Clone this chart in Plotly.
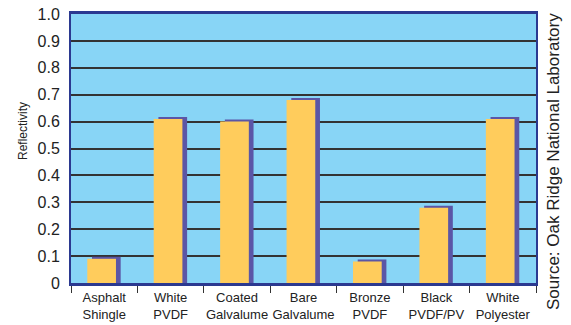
import plotly.graph_objects as go

categories = ["Asphalt<br>Shingle", "White<br>PVDF", "Coated<br>Galvalume", "Bare<br>Galvalume",
              "Bronze<br>PVDF", "Black<br>PVDF/PV", "White<br>Polyester"]
reflectivity = [0.09, 0.61, 0.60, 0.68, 0.08, 0.28, 0.61]
y_ticks = [0, 0.1, 0.2, 0.3, 0.4, 0.5, 0.6, 0.7, 0.8, 0.9, 1.0]
y_tick_text = ["0", "0.1", "0.2", "0.3", "0.4", "0.5", "0.6", "0.7", "0.8", "0.9", "1.0"]

FONT = "Liberation Sans, Arial, sans-serif"
depth = 0.0075
bar_w = 0.432

fig = go.Figure()
# 3D side/shadow
fig.add_trace(go.Bar(x=categories, y=[v + depth for v in reflectivity], width=bar_w, offset=-0.184,
                     marker=dict(color="#5B56A6", line=dict(width=0)), hoverinfo="skip"))
# front face
fig.add_trace(go.Bar(x=categories, y=reflectivity, width=bar_w, offset=-0.255,
                     marker=dict(color="#FFCC5C", line=dict(width=0))))

fig.update_layout(
    width=571, height=325, barmode="overlay", showlegend=False,
    margin=dict(l=71, r=35, t=14, b=42),
    paper_bgcolor="white", plot_bgcolor="#88D5F6",
    font=dict(family=FONT, color="#222222"),
    xaxis=dict(tickfont=dict(size=13, color="#222222"), tickson="boundaries", ticks="outside",
               ticklen=7, tickcolor="#333333", tickwidth=1, tickangle=0, automargin=False,
               showline=True, linecolor="#2B3990", linewidth=3, mirror=True, showgrid=False),
    yaxis=dict(range=[0, 1.0], tickvals=y_ticks, ticktext=y_tick_text, tickfont=dict(size=16, color="#222222"),
               showgrid=True, gridcolor="#333333", gridwidth=2, ticks="", ticklabelstandoff=6,
               automargin=False,
               showline=True, linecolor="#2B3990", linewidth=2, mirror=True, zeroline=False),
    annotations=[
        dict(text="Reflectivity", textangle=-90, x=23, y=131, xref="paper", yref="paper",
             showarrow=False, font=dict(size=12, color="#222222")),
        dict(text="Source: Oak Ridge National Laboratory", textangle=-90, x=553, y=162,
             showarrow=False, font=dict(size=17, color="#222222")),
    ],
)
# convert pixel annotation positions to paper coords
pw = 571 - 71 - 35
ph = 325 - 14 - 42
for a in fig.layout.annotations:
    px, py = a.x, a.y
    a.x = (px - 71) / pw
    a.y = (325 - 42 - py) / ph
    a.xref = "paper"
    a.yref = "paper"
    a.xanchor = "center"
    a.yanchor = "middle"

fig.write_html("out.html")
